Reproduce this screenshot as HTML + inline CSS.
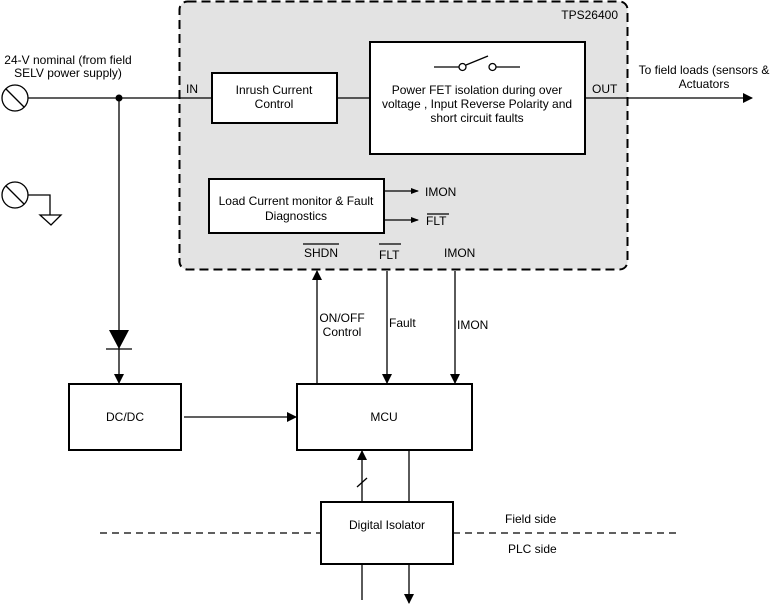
<!DOCTYPE html>
<html><head><style>body{margin:0;background:#fff}svg{display:block}text{font-family:"Liberation Sans",Arial,sans-serif;font-size:12px;fill:#000}</style></head><body>
<svg width="777" height="604" viewBox="0 0 777 604" xmlns="http://www.w3.org/2000/svg">
<defs><marker id="a" markerWidth="10" markerHeight="10" refX="9" refY="5" orient="auto" markerUnits="userSpaceOnUse"><path d="M0,0 L10,5 L0,10 Z" fill="#000"/></marker>
<marker id="s" markerWidth="8" markerHeight="8" refX="7" refY="4" orient="auto" markerUnits="userSpaceOnUse"><path d="M0,1 L8,4 L0,7 Z" fill="#000"/></marker></defs>
<rect x="179.5" y="1.5" width="448" height="268" rx="8" fill="#e3e3e3" stroke="#000" stroke-width="2" stroke-dasharray="9,5"/>
<text x="618" y="19" text-anchor="end">TPS26400</text>
<g fill="#fff" stroke="#000" stroke-width="2">
<rect x="212" y="73" width="125" height="50"/>
<rect x="370" y="42" width="215" height="112"/>
<rect x="209" y="179" width="175" height="54"/>
<rect x="69" y="384" width="112" height="66"/>
<rect x="297" y="384" width="175" height="66"/>
<rect x="321" y="502" width="132" height="62"/>
</g>
<g stroke="#000" stroke-width="1.3" fill="none">
<circle cx="15" cy="98" r="13"/><line x1="6" y1="89" x2="24" y2="107"/>
<line x1="28" y1="98" x2="212" y2="98"/>
<line x1="337" y1="98" x2="370" y2="98"/>
<line x1="585" y1="98" x2="752" y2="98" marker-end="url(#a)"/>
<circle cx="15" cy="195" r="13"/><line x1="6" y1="186" x2="24" y2="204"/>
<polyline points="28,195 50,195 50,215"/><path d="M40,215 L61,215 L51,225 Z"/>
<line x1="434" y1="67" x2="459" y2="67"/><circle cx="462.5" cy="67" r="3.5"/>
<line x1="466" y1="65" x2="488" y2="56"/><circle cx="492.5" cy="67" r="3.5"/>
<line x1="496" y1="67" x2="520" y2="67"/>
<line x1="384" y1="191" x2="418" y2="191" marker-end="url(#s)"/>
<line x1="384" y1="220" x2="418" y2="220" marker-end="url(#s)"/>
<line x1="119" y1="98" x2="119" y2="383" marker-end="url(#a)"/>
<line x1="184" y1="417" x2="296" y2="417" marker-end="url(#a)"/>
<line x1="317" y1="384" x2="317" y2="271" marker-end="url(#a)"/>
<line x1="387" y1="271" x2="387" y2="383" marker-end="url(#a)"/>
<line x1="455" y1="271" x2="455" y2="383" marker-end="url(#a)"/>
<line x1="362" y1="502" x2="362" y2="451" marker-end="url(#a)"/>
<line x1="357" y1="487" x2="367" y2="478"/>
<line x1="409" y1="450" x2="409" y2="502"/>
<line x1="362" y1="564" x2="362" y2="600"/>
<line x1="409" y1="564" x2="409" y2="603" marker-end="url(#a)"/>
<line x1="100" y1="533" x2="321" y2="533" stroke-dasharray="7,5"/>
<line x1="453" y1="533" x2="680" y2="533" stroke-dasharray="7,5"/>
<line x1="106" y1="349" x2="132" y2="349"/>
<line x1="303" y1="244" x2="339" y2="244"/>
<line x1="379" y1="244" x2="401" y2="244"/>
<line x1="427" y1="214" x2="449" y2="214"/>
</g>
<path d="M109,330 L129,330 L119,349 Z" fill="#000"/>
<circle cx="119" cy="98" r="3.5" fill="#000"/>
<text x="68" y="64" text-anchor="middle">24-V nominal (from field</text>
<text x="68" y="77" text-anchor="middle">SELV power supply)</text>
<text x="186" y="93">IN</text>
<text x="592" y="93">OUT</text>
<text x="274" y="94" text-anchor="middle">Inrush Current</text>
<text x="274" y="108" text-anchor="middle">Control</text>
<text x="477" y="94" text-anchor="middle">Power FET isolation during over</text>
<text x="477" y="108" text-anchor="middle">voltage , Input Reverse Polarity and</text>
<text x="477" y="122" text-anchor="middle">short circuit faults</text>
<text x="704" y="74" text-anchor="middle">To field loads (sensors &amp;</text>
<text x="704" y="88" text-anchor="middle">Actuators</text>
<text x="296" y="205" text-anchor="middle">Load Current monitor &amp; Fault</text>
<text x="296" y="220" text-anchor="middle">Diagnostics</text>
<text x="425" y="196">IMON</text>
<text x="426" y="225">FLT</text>
<text x="304" y="257">SHDN</text>
<text x="379" y="259">FLT</text>
<text x="444" y="257">IMON</text>
<text x="342" y="322" text-anchor="middle">ON/OFF</text>
<text x="342" y="336" text-anchor="middle">Control</text>
<text x="389" y="327">Fault</text>
<text x="457" y="329">IMON</text>
<text x="125" y="421" text-anchor="middle">DC/DC</text>
<text x="384" y="421" text-anchor="middle">MCU</text>
<text x="387" y="529" text-anchor="middle">Digital Isolator</text>
<text x="505" y="523">Field side</text>
<text x="508" y="553">PLC side</text>
</svg>
</body></html>
